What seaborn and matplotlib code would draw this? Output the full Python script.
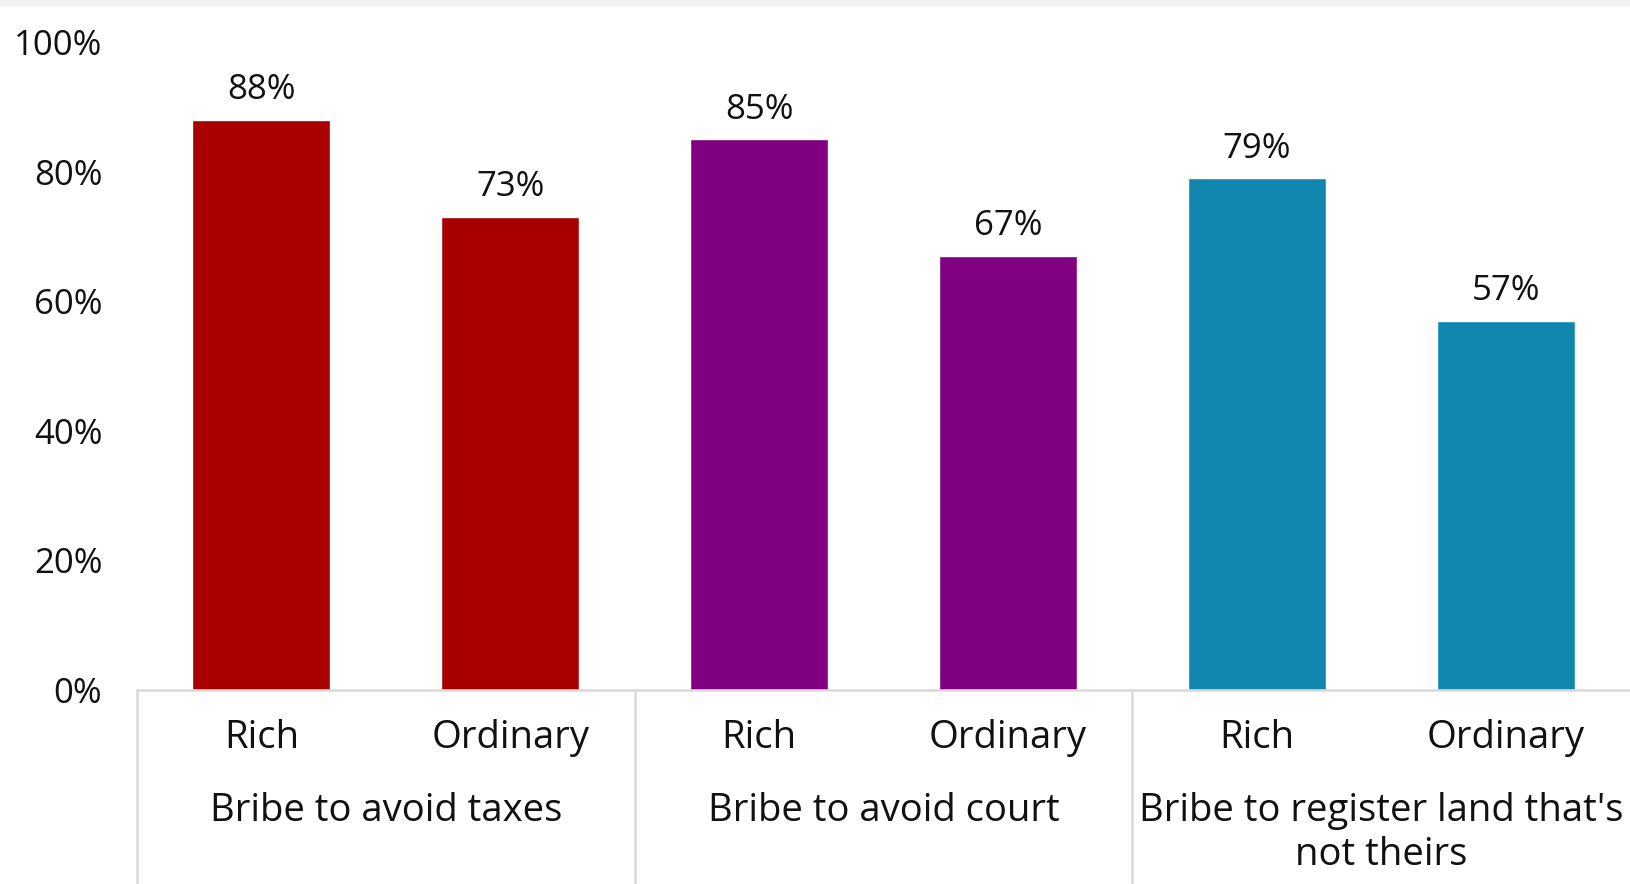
import matplotlib
matplotlib.use("Agg")
import matplotlib.pyplot as plt
import matplotlib.transforms as mtransforms
import seaborn as sns
import pandas as pd

groups = ["Bribe to avoid taxes", "Bribe to avoid court", "Bribe to register land that's\nnot theirs"]
subs = ["Rich", "Ordinary"]
values = [88, 73, 85, 67, 79, 57]
colors = ["#A80000", "#800080", "#1186AE"]
yticks = [0, 20, 40, 60, 80, 100]

sns.set_theme(style="white")
plt.rcParams["font.family"] = ["Open Sans", "DejaVu Sans"]

rows = []
for gi, g in enumerate(groups):
    for si, s in enumerate(subs):
        rows.append({"pos": f"{gi}-{s}", "group": g, "sub": s, "value": values[gi * 2 + si]})
df = pd.DataFrame(rows)

fig = plt.figure(figsize=(16.3, 8.84), dpi=100)
ax = fig.add_axes([137 / 1630, 1 - 690 / 884, 1 - 137 / 1630, (690 - 42) / 884])

sns.barplot(data=df, x="pos", y="value", hue="group", palette=colors, dodge=False,
            width=0.555, legend=False, ax=ax, saturation=1)

FS_NUM = 25
FS_TXT = 27.5
for cont in ax.containers:
    labs = [f"{int(round(b.get_height()))}%" if b.get_height() > 0 else "" for b in cont]
    ax.bar_label(cont, labels=labs, padding=9, fontsize=FS_NUM, color="#111111")

ax.set_xlim(-0.5, 5.5)
ax.set_ylim(0, 100)
ax.set_yticks(yticks)
ax.set_yticklabels([f"{t}%" for t in yticks], fontsize=FS_NUM, color="#111111")
ax.set_xticks(range(6))
ax.set_xticklabels(list(df["sub"]), fontsize=FS_TXT, color="#111111")
ax.tick_params(axis="y", length=0, pad=25)
ax.tick_params(axis="x", length=0, pad=21)
ax.set_xlabel("")
ax.set_ylabel("")
for s in ["left", "top", "right"]:
    ax.spines[s].set_visible(False)
ax.spines["bottom"].set_color("#d9d9d9")
ax.spines["bottom"].set_linewidth(1.8)

trans = mtransforms.blended_transform_factory(ax.transData, ax.transAxes)
for xb in [-0.5, 1.5, 3.5]:
    ax.plot([xb, xb], [0, -0.32], color="#d9d9d9", lw=1.8, transform=trans, clip_on=False)
for gi, g in enumerate(groups):
    ax.text(gi * 2 + 0.5, -0.158, g, transform=trans, ha="center", va="top",
            fontsize=FS_TXT, color="#111111", linespacing=1.2)

# faint decorative band at the very top
fig.patches.append(plt.Rectangle((0, 1 - 5 / 884), 1, 5 / 884, transform=fig.transFigure,
                                 color="#f2f2f2", zorder=0))

fig.savefig("out.png", dpi=100)
